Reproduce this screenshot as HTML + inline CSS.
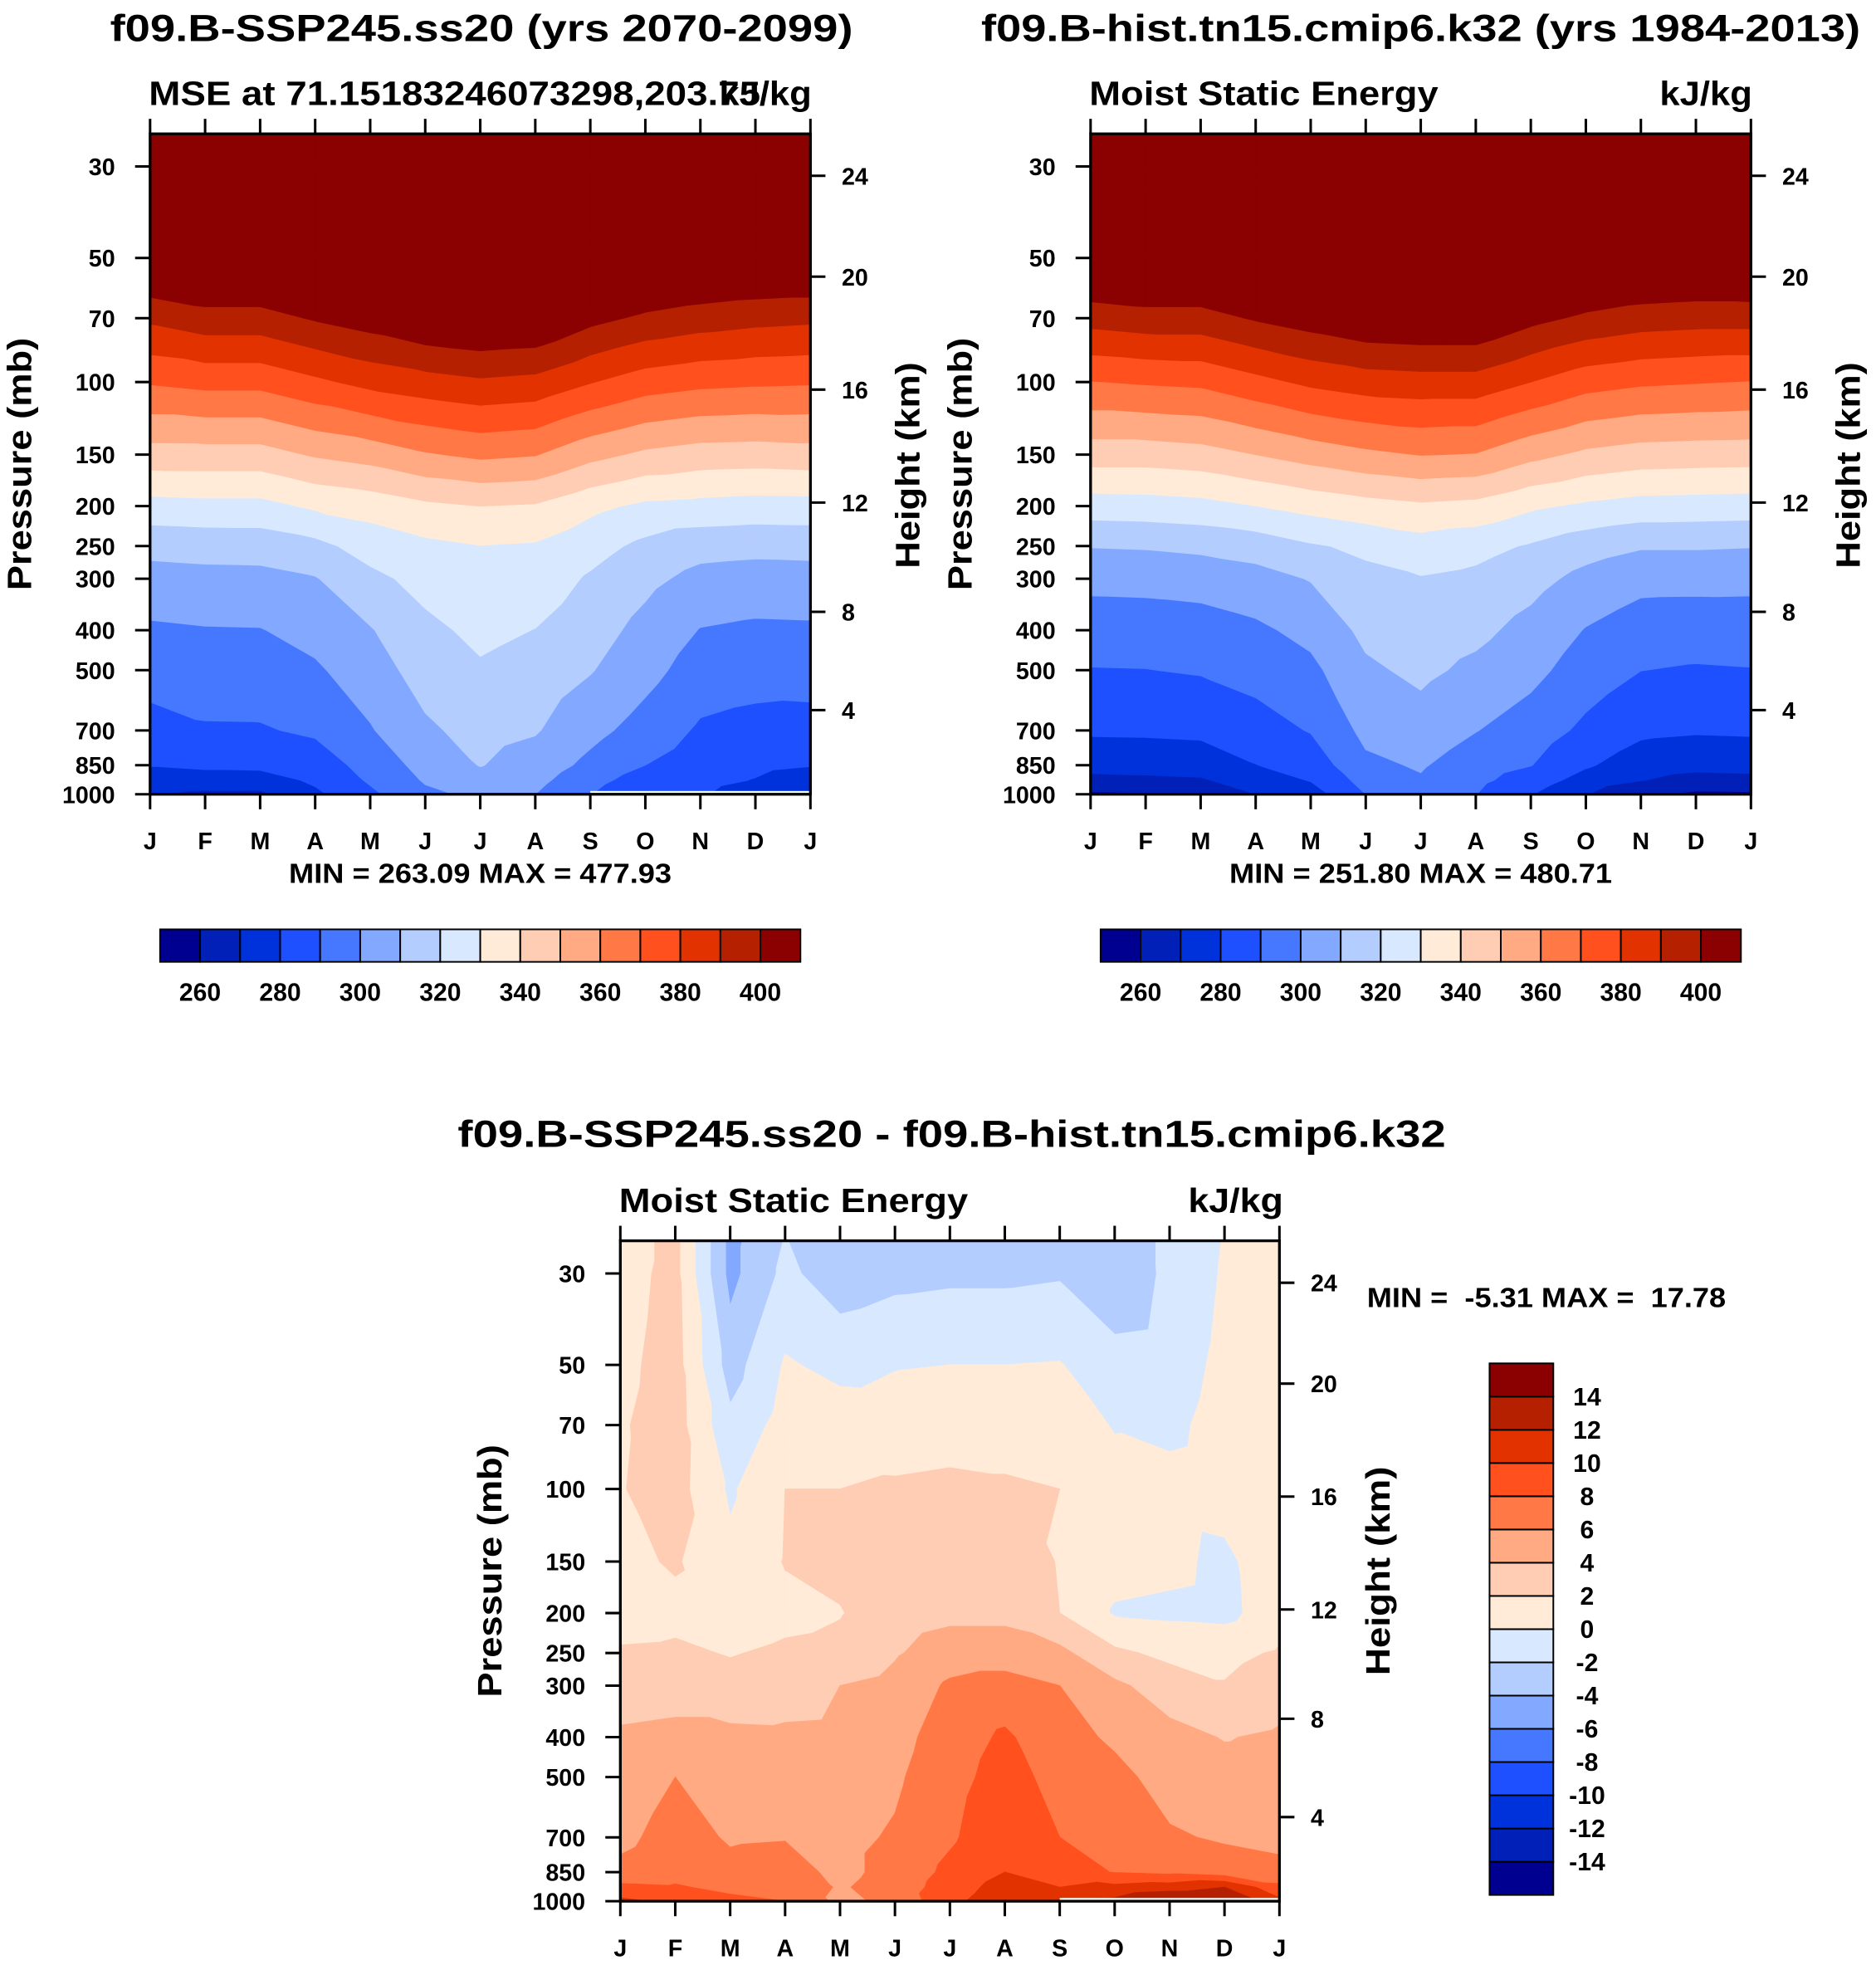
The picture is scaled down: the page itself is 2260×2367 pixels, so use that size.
<!DOCTYPE html>
<html><head><meta charset="utf-8"><title>MSE</title>
<style>
html,body{margin:0;padding:0;background:#fff;}
svg{display:block;}
text{font-family:"Liberation Sans",Arial,sans-serif;font-weight:bold;fill:#000;}
</style></head>
<body>
<svg id="fig" xmlns="http://www.w3.org/2000/svg" width="2260" height="2367" viewBox="0 0 1500 1571">
<rect x="0" y="0" width="1500" height="1571" fill="#fff"/>
<g id="p1"></g>
<g id="p2"></g>
<g id="p3"></g>
<text x="385" y="33" font-size="30" text-anchor="middle" textLength="594" lengthAdjust="spacingAndGlyphs">f09.B-SSP245.ss20 (yrs 2070-2099)</text>
<text x="1136" y="33" font-size="30" text-anchor="middle" textLength="703" lengthAdjust="spacingAndGlyphs">f09.B-hist.tn15.cmip6.k32 (yrs 1984-2013)</text>
<text x="119" y="84" font-size="27" textLength="489" lengthAdjust="spacingAndGlyphs">MSE at 71.15183246073298,203.75</text>
<text x="649" y="84" font-size="27" text-anchor="end" textLength="74" lengthAdjust="spacingAndGlyphs">kJ/kg</text>
<text x="871" y="84" font-size="27" textLength="279" lengthAdjust="spacingAndGlyphs">Moist Static Energy</text>
<text x="1401" y="84" font-size="27" text-anchor="end" textLength="74" lengthAdjust="spacingAndGlyphs">kJ/kg</text>
<text x="384" y="706" font-size="22" text-anchor="middle" textLength="306" lengthAdjust="spacingAndGlyphs">MIN = 263.09 MAX = 477.93</text>
<text x="1136" y="706" font-size="22" text-anchor="middle" textLength="306" lengthAdjust="spacingAndGlyphs">MIN = 251.80 MAX = 480.71</text>
<text x="761" y="917" font-size="30" text-anchor="middle" textLength="790" lengthAdjust="spacingAndGlyphs">f09.B-SSP245.ss20 - f09.B-hist.tn15.cmip6.k32</text>
<text x="495" y="969" font-size="27" textLength="279" lengthAdjust="spacingAndGlyphs">Moist Static Energy</text>
<text x="1026" y="969" font-size="27" text-anchor="end" textLength="76" lengthAdjust="spacingAndGlyphs">kJ/kg</text>
<text x="1093" y="1045" font-size="22" xml:space="preserve" textLength="287" lengthAdjust="spacingAndGlyphs">MIN =  -5.31 MAX =  17.78</text>
<text transform="translate(25,371) rotate(-90)" font-size="27" text-anchor="middle" textLength="202" lengthAdjust="spacingAndGlyphs">Pressure (mb)</text>
<text transform="translate(735,372) rotate(-90)" font-size="27" text-anchor="middle" textLength="165" lengthAdjust="spacingAndGlyphs">Height (km)</text>
<text transform="translate(777,371) rotate(-90)" font-size="27" text-anchor="middle" textLength="202" lengthAdjust="spacingAndGlyphs">Pressure (mb)</text>
<text transform="translate(1487,372) rotate(-90)" font-size="27" text-anchor="middle" textLength="165" lengthAdjust="spacingAndGlyphs">Height (km)</text>
<text transform="translate(401,1256) rotate(-90)" font-size="27" text-anchor="middle" textLength="202" lengthAdjust="spacingAndGlyphs">Pressure (mb)</text>
<text transform="translate(1111,1256) rotate(-90)" font-size="27" text-anchor="middle" textLength="167" lengthAdjust="spacingAndGlyphs">Height (km)</text>
</svg>
<script>
const months = ['J','F','M','A','M','J','J','A','S','O','N','D','J'];
const pLevels = [25,30,50,70,100,150,200,250,300,400,500,700,850,925,1000];
const pTicks = [30,50,70,100,150,200,250,300,400,500,700,850,1000];
const hTicks = [4,8,12,16,20,24];
const mseLevels = [260,270,280,290,300,310,320,330,340,350,360,370,380,390,400];
const mseLabels = [260,280,300,320,340,360,380,400];
const diffLevels = [-14,-12,-10,-8,-6,-4,-2,0,2,4,6,8,10,12,14];
const palette = ['#000090','#0020B8','#0032DC','#1E50FF','#4678FF','#82A8FF','#B4CDFF','#D8E9FF','#FFEBD8','#FFCDB4','#FFAA82','#FF7846','#FF501E','#E13200','#B42000','#8B0000'];
// rows = months (J..J), columns = pLevels
const sspMSE = [
[460,440,415,392,371,345.9,326.2,313,306.2,298.5,294.5,286,280.4,275.7,270.5],
[458,444,417,396,373,346,327,313.7,307,299.4,295.3,289,281.9,275.5,268],
[458,444,417,396,373,346,327,314,307.2,299.6,295.7,289.1,282.5,275.2,268],
[455,445,418,401,378,351,331.5,317.1,309.4,303.3,298.6,291.6,284.6,281.7,278],
[460,452,425,405,383,354,334,324.2,317.4,309.3,305.4,299.2,293.8,291.2,288],
[465,457,428,410,386,359,338,327.8,323.3,317.6,314.2,308.3,303.3,300.9,298],
[470,460,430,412,388.5,362,340,329.8,327,322.3,318.8,313.4,310.4,306.4,302],
[468,458,430,411,387,360.5,339,329,325.4,319.8,316.2,310.8,305.6,302.7,300],
[460,450,424,403,380.5,353,332.5,323.7,318.8,314.2,310.6,303,297.4,293.5,290.3],
[455,445,418,398,375,348,328,317.6,312.5,306.9,303.3,296,290,285,280.5],
[458,442,416,395,372.5,345.5,327,313.4,307,299.6,295.3,288.6,284.5,282.5,280.8],
[460,441,415,393,371.5,345,326,312.6,306,298.2,294,286.7,282,279.6,276],
[460,440,415,392,371,345.9,326.2,313,306.2,298.5,294.5,286,280.4,275.7,270.5]
];
const histMSE = [
[460,440,416,394,369.6,344.6,325.1,310.4,302.6,294.8,289.6,281.4,273.4,267.2,258.5],
[458,443,417,396,371,344.6,325.6,310.9,302.9,295,289.8,281.6,273.7,268,259],
[458,443,417,396,372,346.1,326.8,312.2,303.8,295.7,290.8,282.2,274.4,268.9,260],
[455,445,419,401,377,350,329.9,314.2,306.4,298.1,293.7,285.6,279.8,274.7,270],
[460,452,425,405,382,354.2,333.3,318.9,310.5,302.9,297.6,290.6,284,280.5,275.3],
[465,457,428,409,385,357.8,336.2,322,317.4,312.3,308.3,302.5,298,293.6,290],
[468,458,430,410,386,360.3,338.3,325.7,319.4,315.3,312.1,305.8,300.9,299.1,295],
[467,458,429,410,386,359.5,337,323.2,317.7,312.4,307.8,300.3,295,292.4,290.2],
[460,450,424,403,380,352.8,331.6,319,313.3,306.8,302.8,295.3,290.3,285.2,280.5],
[455,445,418,398,374,347.9,328.3,314.1,307,299.5,295.2,287.8,281.2,276,270.5],
[458,442,416,395,371.5,345.5,326,310.9,302.9,295.1,290.1,282,274.8,270.3,260.5],
[460,441,415,394,370.5,344.9,325.6,310.9,302.8,294.6,289.1,281,272.9,266.5,258],
[460,440,416,394,369.6,344.6,325.1,310.4,302.6,294.8,289.6,281.4,273.4,267.2,258.5]
];
const diffMSE = [
[1.0,1.2,1.5,1.8,1.9,1.5,1.2,2.2,3.0,4.3,4.8,5.5,6.5,8.5,10.5],
[2.6,2.6,2.8,2.9,2.8,2.2,1.5,2.3,3.2,4.5,6.0,6.8,7.3,8.2,9.5],
[-4.6,-4.6,-2.9,-1.5,-0.3,0.5,1.0,1.9,2.6,4.5,5.0,5.8,6.5,7.5,8.5],
[-1.9,-1.5,0.2,0.8,2.0,2.1,1.5,2.3,3.0,4.4,4.8,5.9,6.8,7.3,8.0],
[-3.5,-3.2,-0.5,0.9,2.0,2.5,1.9,2.5,4.0,4.5,5.0,5.5,5.5,5.8,5.5],
[-3.0,-2.6,-0.1,0.8,2.3,2.8,3.0,3.8,4.6,5.3,5.7,6.2,6.6,6.8,6.5],
[-2.8,-2.4,0.0,1.0,2.5,3.0,3.5,5.0,6.3,7.0,7.3,7.7,8.5,9.0,9.5],
[-2.7,-2.4,0.0,1.0,2.3,3.0,3.5,5.0,6.8,8.3,8.8,9.5,10.0,10.8,11.2],
[-2.0,-2.2,0.1,0.8,2.0,1.9,2.0,4.5,6.0,6.7,7.3,8.0,9.0,10.0,10.5],
[-3.5,-3.6,-1.2,-0.1,0.6,0.7,-0.2,2.4,4.4,5.7,6.5,7.2,7.9,10.5,12.5],
[-1.5,-1.5,-1.0,-0.5,0.7,0.5,-0.4,1.5,3.0,4.6,5.3,6.2,7.5,11,14.5],
[0.1,0.2,0.5,0.8,1.0,-0.5,-0.6,1.5,2.1,3.9,4.7,5.8,6.8,12,14.5],
[1.0,1.2,1.5,1.8,1.9,1.5,1.2,2.2,3.0,4.3,4.8,5.5,6.5,8.5,10.5]
];

const NS = 'http://www.w3.org/2000/svg';
function mk(parent, tag, attrs, txt){
  const e = document.createElementNS(NS, tag);
  for (const k in attrs) e.setAttribute(k, attrs[k]);
  if (txt !== undefined) e.textContent = txt;
  parent.appendChild(e);
  return e;
}
function makeScales(P){
  const lt = Math.log10(pLevels[0]), lb = Math.log10(pLevels[pLevels.length-1]);
  P.y = p => P.y0 + (Math.log10(p)-lt)/(lb-lt)*(P.y1-P.y0);
  P.x = m => P.x0 + m/(months.length-1)*(P.x1-P.x0);
}
function stdP(z){
  if (z <= 11) return 1013.25*Math.pow(1-z*6.5/288.15, 5.2559);
  if (z <= 20) return 226.32*Math.exp(-(z-11)/6.3416);
  return 226.32*Math.exp(-9/6.3416)*Math.exp(-(z-20)/7.1);
}
function clipPoly(pts, t){
  const out = [];
  for (let i=0;i<pts.length;i++){
    const a = pts[i], b = pts[(i+1)%pts.length];
    const ia = a[2] >= t, ib = b[2] >= t;
    if (ia) out.push(a);
    if (ia !== ib){
      const f = (t-a[2])/(b[2]-a[2]);
      out.push([a[0]+f*(b[0]-a[0]), a[1]+f*(b[1]-a[1]), t]);
    }
  }
  return out;
}
function drawField(g, P, vals, levels, name){
  const base = mk(g, 'rect', {x:P.x0, y:P.y0, width:P.x1-P.x0, height:P.y1-P.y0, fill:palette[0]});
  
  
  levels.forEach((t, li) => {
    let d = '';
    for (let i=0;i<months.length-1;i++){
      for (let k=0;k<pLevels.length-1;k++){
        const A=[P.x(i),P.y(pLevels[k]),vals[i][k]], B=[P.x(i+1),P.y(pLevels[k]),vals[i+1][k]];
        const C=[P.x(i+1),P.y(pLevels[k+1]),vals[i+1][k+1]], D=[P.x(i),P.y(pLevels[k+1]),vals[i][k+1]];
        [[A,B,C],[A,C,D]].forEach(tri => {
          const c = clipPoly(tri, t);
          if (c.length >= 3) d += 'M' + c.map(p => p[0].toFixed(2)+','+p[1].toFixed(2)).join('L') + 'Z';
        });
      }
    }
    if (d){
      const col = palette[li+1];
      const path = mk(g, 'path', {d:d, fill:col, stroke:col, 'stroke-width':0.6, 'stroke-linejoin':'round'});
      
      
    }
  });
}
function drawAxes(g, P, name){
  const tl = 12;
  months.forEach((m, i) => {
    const x = P.x(i);
    const tt = mk(g, 'line', {x1:x, y1:P.y0, x2:x, y2:P.y0-tl, stroke:'#000','stroke-width':2});
    
    
    const bt = mk(g, 'line', {x1:x, y1:P.y1, x2:x, y2:P.y1+tl, stroke:'#000','stroke-width':2});
    
    
    const lab = mk(g, 'text', {x:x, y:P.y1+44, 'font-size':19, 'text-anchor':'middle'}, m);
    
    
  });
  pTicks.forEach(p => {
    const y = P.y(p);
    const t = mk(g, 'line', {x1:P.x0, y1:y, x2:P.x0-tl, y2:y, stroke:'#000','stroke-width':2});
    
    
    const lab = mk(g, 'text', {x:P.x0-28, y:y+7, 'font-size':19, 'text-anchor':'end'}, String(p));
    
    
  });
  hTicks.forEach(z => {
    const y = P.y(stdP(z)) + 2;
    const t = mk(g, 'line', {x1:P.x1, y1:y, x2:P.x1+tl, y2:y, stroke:'#000','stroke-width':2});
    
    
    const lab = mk(g, 'text', {x:P.x1+25, y:y+7, 'font-size':19}, String(z));
    
    
  });
  const box = mk(g, 'rect', {x:P.x0, y:P.y0, width:P.x1-P.x0, height:P.y1-P.y0, fill:'none', stroke:'#000','stroke-width':2.2});
  
  
}
function hColorbar(g, x0, y0, w, h, name){
  const n = palette.length, bw = w/n;
  palette.forEach((c, i) => {
    const r = mk(g, 'rect', {x:x0+i*bw, y:y0, width:bw, height:h, fill:c, stroke:'#000','stroke-width':1.3});
    
    
  });
  mseLabels.forEach(v => {
    const idx = mseLevels.indexOf(v);
    const lab = mk(g, 'text', {x:x0+(idx+1)*bw, y:y0+h+31, 'font-size':20, 'text-anchor':'middle'}, String(v));
    
    
  });
}
function vColorbar(g, x0, y0, w, h, name){
  const n = palette.length, bh = h/n;
  palette.forEach((c, i) => {
    const r = mk(g, 'rect', {x:x0, y:y0+h-(i+1)*bh, width:w, height:bh, fill:c, stroke:'#000','stroke-width':1.3});
    
    
  });
  diffLevels.forEach((v, i) => {
    const lab = mk(g, 'text', {x:x0+w+27, y:y0+h-(i+1)*bh+7, 'font-size':20, 'text-anchor':'middle'}, String(v));
    
    
  });
}
function missingStrip(g, P, fromMonth, name){
  const s = mk(g, 'rect', {x:P.x(fromMonth), y:P.y1-2.6, width:P.x(months.length-1)-P.x(fromMonth), height:2.4, fill:'#fff'});
  
  
}

const P1 = {x0:120, x1:648, y0:107, y1:635}; makeScales(P1);
const P2 = {x0:872, x1:1400, y0:107, y1:635}; makeScales(P2);
const P3 = {x0:496, x1:1023, y0:992, y1:1520}; makeScales(P3);
const g1 = document.getElementById('p1'), g2 = document.getElementById('p2'), g3 = document.getElementById('p3');
drawField(g1, P1, sspMSE, mseLevels, 'ssp245');
missingStrip(g1, P1, 8, 'ssp245');
drawAxes(g1, P1, 'ssp245');
hColorbar(g1, 128, 743, 512, 26, 'ssp245');
drawField(g2, P2, histMSE, mseLevels, 'hist');
drawAxes(g2, P2, 'hist');
hColorbar(g2, 880, 743, 512, 26, 'hist');
drawField(g3, P3, diffMSE, diffLevels, 'difference');
missingStrip(g3, P3, 8, 'difference');
drawAxes(g3, P3, 'difference');
vColorbar(g3, 1191, 1090, 51, 425, 'difference');
</script>
</body></html>
